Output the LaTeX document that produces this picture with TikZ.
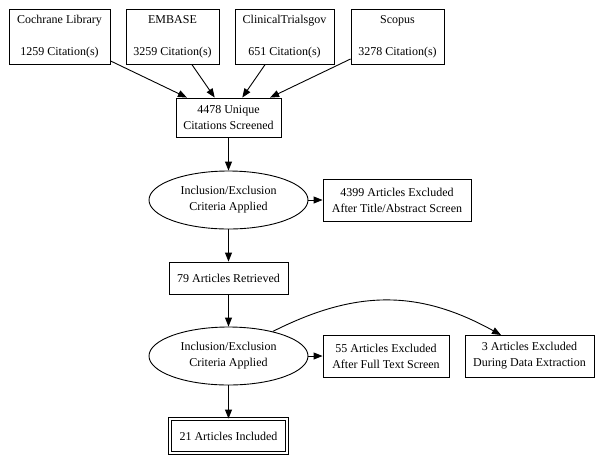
\documentclass[tikz,border=0pt]{standalone}
\usepackage{fontspec}
\setmainfont{Liberation Serif}
\usetikzlibrary{shapes.geometric,arrows.meta}
\begin{document}
\begin{tikzpicture}[x=1pt,y=-1pt,
  every node/.style={font=\fontsize{12}{16}\selectfont, align=center, inner sep=0pt},
  box/.style={draw, line width=0.9pt, rectangle},
  oval/.style={draw, line width=0.9pt, ellipse, minimum width=159pt, minimum height=58pt},
  arr/.style={line width=0.9pt, -{Triangle[length=9pt,width=7pt]}}]
\useasboundingbox (0,0) rectangle (604,467);
\node[box, minimum width=101pt, minimum height=55pt] (coch) at (59.5,36.5) {Cochrane Library\\[16pt]1259 Citation(s)};
\node[box, minimum width=93pt, minimum height=55pt] (emb) at (172.5,36.5) {EMBASE\\[16pt]3259 Citation(s)};
\node[box, minimum width=99pt, minimum height=55pt] (ct) at (284.5,36.5) {ClinicalTrialsgov\\[16pt]651 Citation(s)};
\node[box, minimum width=93pt, minimum height=55pt] (sco) at (397.5,36.5) {Scopus\\[16pt]3278 Citation(s)};
\node[box, minimum width=105pt, minimum height=39pt] (uniq) at (228.5,117.5) {4478 Unique\\Citations Screened};
\node[oval] (e1) at (228.5,200) {Inclusion/Exclusion\\Criteria Applied};
\node[box, minimum width=148pt, minimum height=42pt] (ex1) at (397,200) {4399 Articles Excluded\\After Title/Abstract Screen};
\node[box, minimum width=119pt, minimum height=32pt] (ret) at (228.5,278) {79 Articles Retrieved};
\node[oval] (e2) at (228.5,356) {Inclusion/Exclusion\\Criteria Applied};
\node[box, minimum width=126pt, minimum height=42pt] (ex2) at (386,356) {55 Articles Excluded\\After Full Text Screen};
\node[box, minimum width=129pt, minimum height=42pt] (ex3) at (529.5,356) {3 Articles Excluded\\During Data Extraction};
\node[draw, line width=0.9pt, double, double distance=2.4pt, minimum width=117pt, minimum height=34pt] (inc) at (228.5,436) {21 Articles Included};
\coordinate (ex3in) at (501,335);
\draw[arr] (coch) -- (uniq);
\draw[arr] (emb) -- (uniq);
\draw[arr] (ct) -- (uniq);
\draw[arr] (sco) -- (uniq);
\draw[arr] (uniq) -- (e1);
\draw[arr] (e1) -- (ex1);
\draw[arr] (e1) -- (ret);
\draw[arr] (ret) -- (e2);
\draw[arr] (e2) -- (ex2);
\draw[arr] (e2) -- (inc);
\draw[arr] (e2.29) .. controls (355,290) and (418,289) .. (ex3in);
\end{tikzpicture}
\end{document}
